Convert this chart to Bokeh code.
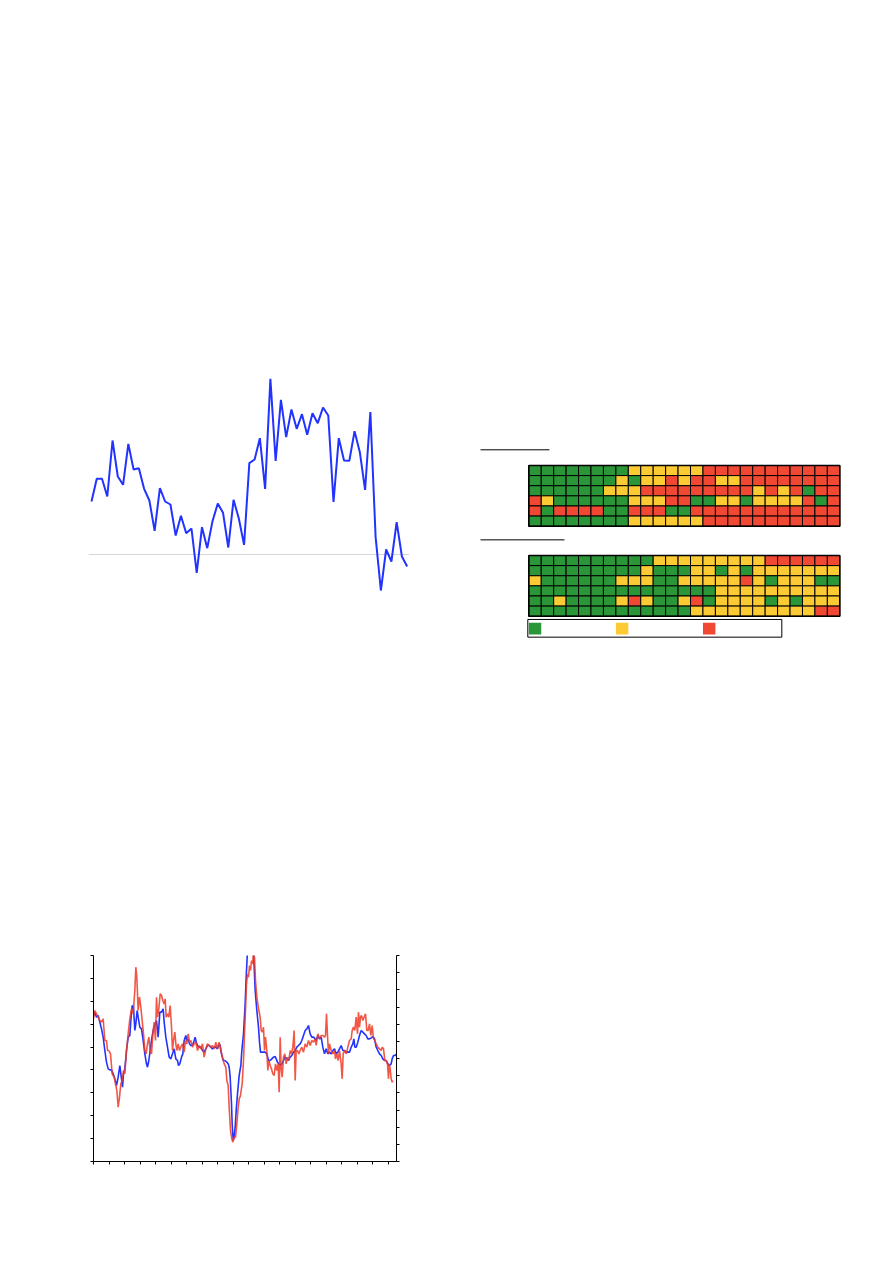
from bokeh.plotting import figure
from bokeh.models import Range1d, Span, FixedTicker, LinearAxis, ColumnDataSource
from bokeh.layouts import column, row
from bokeh.embed import file_html
from bokeh.resources import INLINE

# ---------------- Chart 1: single line series (61 periods) ----------------
top_line = [15.9, 22.7, 22.7, 17.4, 34.2, 23.4, 20.9, 33.2, 25.5, 25.9,
            19.7, 16.2, 7.1, 19.9, 15.9, 15.0, 5.7, 11.6, 6.4, 7.8,
            -5.5, 8.2, 1.9, 10.0, 15.3, 12.5, 2.1, 16.4, 10.8, 2.9,
            27.4, 28.5, 34.9, 19.7, 52.7, 28.1, 46.4, 35.2, 43.5, 37.7,
            42.1, 35.9, 42.4, 39.4, 44.1, 41.7, 15.8, 34.9, 28.2, 28.1,
            37.0, 30.7, 19.4, 42.7, 5.2, -10.8, 1.5, -2.1, 9.7, -0.6, -3.6]
top_idx = list(range(len(top_line)))

# ---------------- Chart 2: two status heat-maps (6 rows x 25 periods) ----------------
grid_a = [
    "GGGGGGGGYYYYYYRRRRRRRRRRR",
    "GGGGGGGYGYYRYRRYYRRRRRRRR",
    "GGGGGGYYYRRRRRRRRRYRYRGRR",
    "RYGGGGGGYYYRRGGYYGYYYYRGR",
    "RGRRRRGGRRRGGRRRRRRRRRRRR",
    "GGGGGGGGYYYYYYRRRRRRRRRRR",
]
grid_b = [
    "GGGGGGGGGGYYYYYYYYYRRRRRR",
    "GGGGGGGGGYGGGYYGYGYYYYYYY",
    "YGGGGGGYYYGGYYYYYRYGYYYGG",
    "GGGGGGGGGGGGGGGYYYYYYYYYY",
    "GGYGGGGYRYGGYRGYYYYGYGYYY",
    "GGGGGGGGGGGGGYYYYYYYYYYRR",
]
status_codes = ["G", "Y", "R"]
status_colors = {"G": "#2a9637", "Y": "#fcca32", "R": "#f14833"}

# ---------------- Chart 3: two series ----------------
blue_pts = [
    (1.6, 43.8), (2.0, 44.8), (2.5, 43.3), (3.0, 43.8), (3.5, 41.8), (4.0, 39.8), (4.5, 37.3), (5.0, 33.3), (5.5, 29.8), (6.0, 27.8),
    (6.5, 27.5), (7.0, 27.5), (7.5, 26.3), (8.0, 24.8), (8.5, 22.8), (9.0, 25.3), (9.5, 28.8), (10.0, 24.8), (10.3, 22.3), (10.6, 26.3),
    (11.0, 27.8), (11.5, 33.3), (12.0, 37.3), (12.5, 37.8), (12.8, 42.3), (13.2, 46.8), (13.6, 46.3), (14.0, 39.3), (14.3, 41.3), (14.7, 45.3),
    (15.0, 43.3), (15.5, 40.3), (16.0, 39.8), (16.5, 36.3), (17.0, 32.3), (17.5, 29.3), (17.8, 28.3), (18.2, 30.3), (18.6, 33.3), (19.0, 36.3),
    (19.5, 39.3), (20.0, 40.8), (20.5, 42.3), (21.0, 37.3), (21.5, 44.8), (22.0, 44.8), (22.5, 45.8), (22.8, 41.8), (23.3, 37.3), (23.8, 34.3),
    (24.3, 31.3), (24.8, 30.8), (25.3, 32.3), (25.8, 33.8), (26.3, 30.8), (26.8, 30.3), (27.1, 28.8), (27.5, 29.3), (28.0, 31.3), (28.4, 32.3),
    (28.8, 36.3), (29.3, 37.8), (29.6, 36.3), (30.0, 36.8), (30.4, 35.3), (30.8, 34.8), (31.3, 34.8), (31.8, 36.3), (32.1, 37.3), (32.4, 35.8),
    (32.8, 34.8), (33.3, 34.3), (33.8, 34.3), (34.3, 33.3), (34.8, 32.8), (35.3, 33.8), (35.8, 34.8), (36.3, 34.8), (36.8, 34.3), (37.3, 33.8),
    (37.8, 34.3), (38.3, 34.3), (38.8, 33.8), (39.3, 35.3), (39.6, 34.8), (40.0, 32.3), (40.5, 30.3), (41.0, 30.3), (41.6, 29.8), (42.0, 29.3),
    (42.3, 28.3), (42.6, 25.3), (42.8, 21.3), (43.0, 17.3), (43.2, 11.3), (43.5, 6.3), (43.8, 7.3), (44.1, 10.3), (44.4, 15.3), (44.8, 20.3),
    (45.3, 25.8), (45.8, 28.8), (46.1, 33.3), (46.6, 38.3), (47.1, 47.3), (47.4, 55.3), (47.7, 61.3), (48.2, 67.3), (48.8, 69.3), (49.4, 66.3),
    (49.8, 58.3), (50.1, 51.3), (50.6, 45.3), (51.1, 40.3), (51.4, 35.8), (51.7, 32.8), (52.1, 32.8), (52.6, 32.8), (53.1, 32.8), (53.6, 32.3),
    (54.1, 30.3), (54.6, 30.3), (55.1, 30.8), (55.6, 31.3), (56.1, 31.5), (56.4, 30.8), (56.8, 29.8), (57.2, 29.3), (57.6, 28.8), (58.1, 29.3),
    (58.6, 30.3), (59.1, 31.3), (59.6, 30.8), (60.1, 30.3), (60.6, 31.3), (61.1, 31.8), (61.6, 32.8), (62.1, 33.3), (62.6, 34.3), (63.1, 34.8),
    (63.6, 35.3), (64.1, 36.3), (64.6, 37.8), (65.1, 39.3), (65.6, 39.8), (66.1, 40.8), (66.6, 38.3), (67.1, 37.3), (67.6, 37.3), (68.1, 36.8),
    (68.4, 36.3), (68.9, 37.8), (69.4, 36.8), (69.9, 37.3), (70.4, 34.3), (70.9, 32.3), (71.4, 33.8), (71.9, 32.3), (72.4, 32.8), (72.9, 32.3),
    (73.4, 33.3), (73.9, 33.8), (74.4, 32.3), (74.9, 32.8), (75.4, 33.8), (75.9, 34.8), (76.4, 33.3), (76.9, 33.3), (77.4, 32.8), (77.9, 32.8),
    (78.4, 32.8), (78.9, 34.3), (79.4, 35.3), (79.7, 36.8), (80.0, 34.3), (80.4, 34.3), (80.9, 35.8), (81.4, 37.8), (81.9, 39.3), (82.4, 38.8),
    (82.9, 38.3), (83.4, 37.8), (83.9, 36.8), (84.4, 36.8), (84.9, 37.1), (85.4, 37.5), (85.9, 36.8), (86.4, 34.3), (86.9, 33.3), (87.4, 32.3),
    (87.9, 31.8), (88.4, 30.8), (88.9, 30.3), (89.4, 30.3), (89.9, 29.3), (90.4, 28.8), (90.9, 29.3), (91.2, 30.8), (91.6, 31.8), (92.0, 31.8),
    (92.4, 32.1),
]
red_pts = [
    (1.6, 42.8), (2.0, 45.3), (2.5, 44.3), (3.0, 43.3), (3.5, 42.3), (4.0, 41.8), (4.5, 42.8), (5.0, 36.3), (5.5, 36.3), (5.8, 33.3),
    (6.2, 33.3), (6.7, 32.3), (7.2, 26.3), (7.8, 25.3), (8.2, 23.3), (8.6, 21.3), (9.0, 16.3), (9.4, 19.3), (9.8, 23.3), (10.2, 24.3),
    (10.6, 27.3), (11.0, 26.3), (11.5, 33.3), (12.0, 38.3), (12.5, 42.8), (13.0, 45.8), (13.5, 44.3), (14.0, 51.3), (14.3, 58.3), (14.6, 55.3),
    (15.0, 45.3), (15.4, 49.3), (15.8, 46.3), (16.2, 42.3), (16.6, 38.3), (17.0, 33.3), (17.4, 32.3), (17.8, 35.3), (18.2, 37.3), (18.6, 33.3),
    (19.0, 32.3), (19.4, 38.3), (19.8, 41.8), (20.2, 36.3), (20.5, 49.3), (20.8, 43.3), (21.2, 45.8), (21.6, 50.3), (22.0, 49.8), (22.4, 48.3),
    (22.8, 47.3), (23.1, 48.8), (23.4, 43.3), (23.8, 44.3), (24.2, 43.3), (24.6, 46.8), (25.0, 40.3), (25.3, 33.3), (25.6, 36.3), (26.0, 38.8),
    (26.3, 35.3), (26.6, 33.3), (27.0, 35.3), (27.4, 33.3), (27.8, 34.3), (28.3, 35.3), (28.8, 32.8), (29.2, 36.3), (29.6, 35.3), (30.0, 38.3),
    (30.4, 35.8), (30.8, 36.3), (31.3, 34.3), (31.8, 35.3), (32.3, 35.8), (32.8, 33.3), (33.3, 34.8), (33.8, 33.8), (34.3, 35.3), (34.8, 31.3),
    (35.3, 33.8), (35.8, 35.3), (36.3, 34.8), (36.8, 34.3), (37.3, 34.8), (37.8, 33.8), (38.3, 35.8), (38.8, 33.8), (39.3, 35.8), (39.8, 33.3),
    (40.3, 31.3), (40.8, 29.3), (41.3, 28.3), (41.6, 24.3), (42.0, 22.8), (42.3, 16.3), (42.7, 9.3), (43.1, 6.8), (43.4, 5.8), (43.8, 7.3),
    (44.2, 7.3), (44.6, 11.3), (45.0, 16.3), (45.4, 19.3), (45.6, 19.3), (46.2, 23.3), (46.6, 30.3), (46.9, 38.3), (47.2, 45.3), (47.5, 53.3),
    (47.8, 56.3), (48.1, 55.3), (48.4, 58.8), (48.7, 57.3), (49.0, 60.3), (49.3, 59.3), (49.6, 62.3), (49.9, 61.3), (50.2, 54.3), (50.6, 49.3),
    (50.9, 47.3), (51.2, 45.3), (51.6, 43.3), (51.9, 39.3), (52.3, 38.8), (52.6, 40.3), (52.9, 33.3), (53.2, 37.3), (53.6, 33.3), (53.9, 27.3),
    (54.2, 30.3), (54.6, 28.8), (55.0, 27.8), (55.4, 26.3), (55.8, 25.8), (56.2, 29.3), (56.6, 27.3), (57.0, 29.3), (57.3, 20.8), (57.6, 37.3),
    (57.9, 27.8), (58.2, 25.3), (58.6, 31.3), (59.0, 32.3), (59.4, 29.3), (59.8, 31.3), (60.2, 30.3), (60.6, 33.3), (61.0, 32.3), (61.4, 34.3),
    (61.8, 39.3), (62.1, 24.3), (62.4, 33.3), (62.8, 33.3), (63.2, 32.3), (63.6, 33.3), (64.1, 34.3), (64.6, 32.8), (65.1, 35.3), (65.6, 34.3),
    (66.1, 36.3), (66.6, 34.8), (67.1, 36.3), (67.6, 35.8), (68.1, 36.8), (68.4, 34.8), (68.9, 38.3), (69.4, 36.8), (69.9, 37.8), (70.4, 37.8),
    (70.9, 37.3), (71.2, 37.8), (71.5, 44.3), (71.8, 37.8), (72.1, 32.3), (72.4, 35.3), (72.9, 33.3), (73.4, 32.3), (73.9, 33.3), (74.2, 30.8),
    (74.6, 32.3), (75.0, 30.3), (75.4, 33.3), (75.9, 29.3), (76.2, 24.8), (76.5, 32.3), (76.9, 33.3), (77.4, 32.3), (77.9, 34.3), (78.4, 36.3),
    (78.9, 36.8), (79.2, 39.3), (79.6, 40.3), (80.0, 39.3), (80.4, 43.3), (80.8, 38.3), (81.1, 44.8), (81.4, 40.3), (81.7, 43.3), (82.0, 43.8),
    (82.4, 42.3), (82.8, 43.3), (83.2, 44.3), (83.6, 39.3), (84.0, 39.3), (84.4, 41.3), (84.8, 37.8), (85.2, 40.8), (85.6, 36.8), (86.0, 36.3),
    (86.4, 35.3), (86.9, 34.3), (87.4, 33.8), (87.9, 33.3), (88.2, 34.3), (88.6, 33.8), (89.0, 30.3), (89.4, 30.3), (89.8, 29.3), (90.1, 24.8),
    (90.3, 29.3), (90.6, 27.8), (90.9, 24.8), (91.2, 23.8), (91.4, 24.3),
]
blue_x = [p[0] for p in blue_pts]
blue_y = [p[1] for p in blue_pts]
red_x = [p[0] for p in red_pts]
red_y = [p[1] for p in red_pts]

# axis tick positions (unlabelled in the reference)
x_ticks3 = [1.6 + 4.65 * k for k in range(20)]
y_ticks_left = [61.8 * i / 9 for i in range(10)]
y_ticks_right = list(range(13))


def base_fig(**kw):
    p = figure(toolbar_location=None, output_backend="svg", outline_line_color=None,
               background_fill_color="white", border_fill_color="white", **kw)
    return p


# ---------- figure 1 ----------
p1 = base_fig(frame_width=321, frame_height=270,
              min_border_left=88, min_border_right=59, min_border_top=370, min_border_bottom=5,
              x_range=Range1d(-0.57, 60.44), y_range=Range1d(-25.8, 55.2),
              x_axis_location=None, y_axis_location=None)
p1.xgrid.visible = False
p1.ygrid.visible = False
p1.add_layout(Span(location=0, dimension="width", line_color="#d6d6d6", line_width=1, level="underlay"))
p1.line(top_idx, top_line, line_color="#2233ff", line_width=2)

# ---------- figure 2 ----------
p2 = base_fig(frame_width=368, frame_height=270,
              min_border_left=8, min_border_right=41, min_border_top=370, min_border_bottom=5,
              x_range=Range1d(-4.204, 25.378), y_range=Range1d(19.77, -6.92),
              x_axis_location=None, y_axis_location=None)
p2.xgrid.visible = False
p2.ygrid.visible = False


def grid_source(grid, top):
    xs, ys, cs = [], [], []
    for i, r in enumerate(grid):
        for j, code in enumerate(r):
            xs.append(j + 0.5)
            ys.append(top + i + 0.5)
            cs.append(status_colors[code])
    return ColumnDataSource(dict(x=xs, y=ys, c=cs))


for grid, top in ((grid_a, 2.47), (grid_b, 11.37)):
    p2.rect(x="x", y="y", width=1, height=1, fill_color="c", line_color="black",
            line_width=1, source=grid_source(grid, top))
    p2.quad(left=0, right=len(grid[0]), top=top, bottom=top + len(grid),
            fill_color=None, line_color="black", line_width=1.5)

# section title underlines
p2.segment(x0=[-3.88, -3.88], y0=[0.92, 9.82], x1=[1.66, 2.87], y1=[0.92, 9.82],
           line_color="black", line_width=1)

# legend box with swatches
p2.quad(left=-0.08, right=20.34, top=17.69, bottom=19.44, fill_color=None,
        line_color="black", line_width=1)
p2.quad(left=[0, 7, 14], right=[1, 8, 15], top=18.01, bottom=19.17,
        fill_color=[status_colors[c] for c in status_codes], line_color=None)

# ---------- figure 3 ----------
p3 = base_fig(frame_width=303, frame_height=206,
              min_border_left=93, min_border_right=72, min_border_top=310, min_border_bottom=20,
              x_range=Range1d(1.6, 92.5), y_range=Range1d(0, 61.8))
p3.xgrid.visible = False
p3.ygrid.visible = False
p3.extra_y_ranges = {"right": Range1d(0, 12)}
right_axis = LinearAxis(y_range_name="right")
p3.add_layout(right_axis, "right")

p3.xaxis.ticker = FixedTicker(ticks=[], minor_ticks=x_ticks3)
p3.yaxis[0].ticker = FixedTicker(ticks=[], minor_ticks=y_ticks_left)
right_axis.ticker = FixedTicker(ticks=[], minor_ticks=y_ticks_right)
for ax in (p3.xaxis[0], p3.yaxis[0], right_axis):
    ax.axis_line_color = "black"
    ax.axis_line_width = 1
    ax.major_tick_line_color = None
    ax.minor_tick_line_color = "black"
    ax.minor_tick_out = 3
    ax.minor_tick_in = 0
    ax.major_label_text_font_size = "0px"

p3.line(blue_x, blue_y, line_color="#2233ff", line_width=1.6)
p3.line(red_x, red_y, line_color="#f03a26", line_width=1.6, line_alpha=0.85)

layout = column(row(p1, p2), p3)

open("out.html", "w").write(file_html(layout, INLINE))
